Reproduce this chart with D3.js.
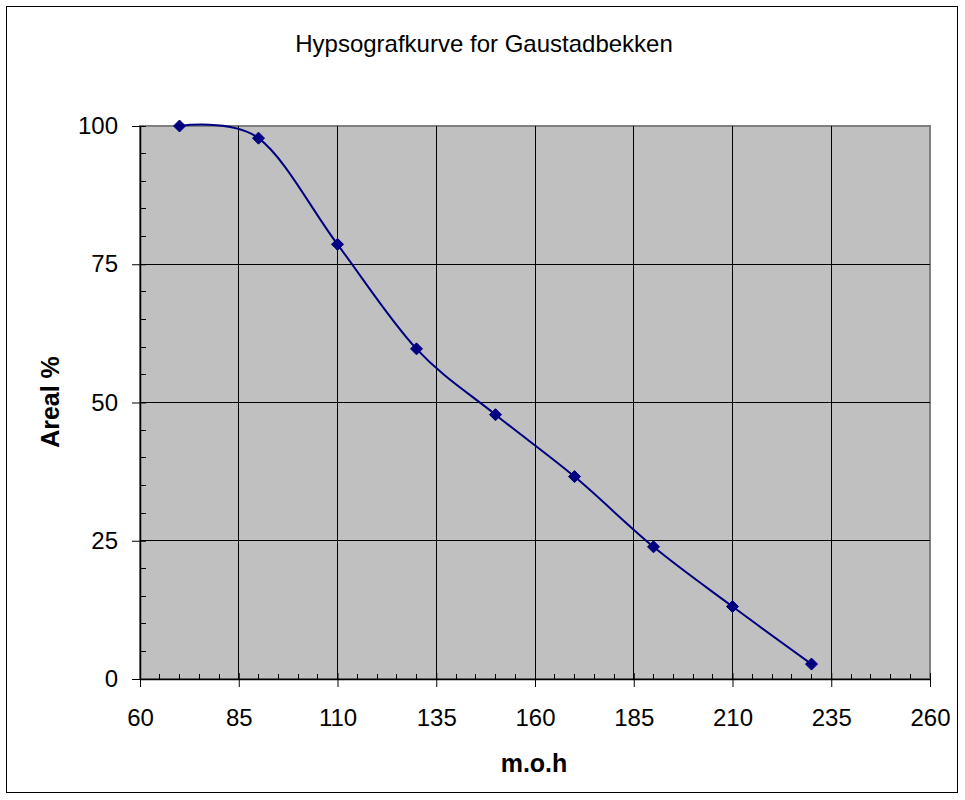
<!DOCTYPE html>
<html>
<head>
<meta charset="utf-8">
<script src="https://cdn.jsdelivr.net/npm/d3@7"></script>
<style>
  html, body { margin: 0; padding: 0; background: #fff; }
  svg { display: block; font-family: "Liberation Sans", Arial, sans-serif; }
</style>
</head>
<body>
<svg id="chart" width="965" height="800"></svg>
<script>
// Hypsographic curve: share of catchment area (%) above each elevation (m.o.h)
const elevation = [70, 90, 110, 130, 150, 170, 190, 210, 230];
const areaPct   = [100, 97.8, 78.6, 59.7, 47.8, 36.6, 23.9, 13.1, 2.7];
const xTicks = [60, 85, 110, 135, 160, 185, 210, 235, 260];
const yTicks = [0, 25, 50, 75, 100];
const titleText = "Hypsografkurve for Gaustadbekken";
const xLabel = "m.o.h";
const yLabel = "Areal %";

const svg = d3.select("#chart");
const plot = { left: 140, right: 930, top: 126, bottom: 679 };

const x = d3.scaleLinear().domain([60, 260]).range([plot.left, plot.right]);
const y = d3.scaleLinear().domain([0, 100]).range([plot.bottom, plot.top]);

// outer chart frame
svg.append("rect")
  .attr("x", 6.5).attr("y", 6.5)
  .attr("width", 951).attr("height", 786)
  .attr("fill", "#fff").attr("stroke", "#000").attr("stroke-width", 1);

// plot area background and border
svg.append("rect")
  .attr("x", plot.left).attr("y", plot.top)
  .attr("width", plot.right - plot.left).attr("height", plot.bottom - plot.top)
  .attr("fill", "#c0c0c0").attr("stroke", "#808080").attr("stroke-width", 2);

// gridlines
const grid = svg.append("g").attr("stroke", "#000").attr("stroke-width", 1).attr("shape-rendering", "crispEdges");
grid.selectAll("line.v").data(xTicks.slice(1, -1)).join("line")
  .attr("x1", d => x(d)).attr("x2", d => x(d))
  .attr("y1", plot.top).attr("y2", plot.bottom);
grid.selectAll("line.h").data(yTicks.slice(1, -1)).join("line")
  .attr("x1", plot.left).attr("x2", plot.right)
  .attr("y1", d => y(d)).attr("y2", d => y(d));

// minor ticks every 5 units, pointing into the plot
const xMinor = d3.range(60, 261, 5).filter(v => !xTicks.includes(v));
const yMinor = d3.range(0, 101, 5).filter(v => !yTicks.includes(v));
const minor = svg.append("g").attr("stroke", "#000").attr("stroke-width", 1).attr("shape-rendering", "crispEdges");
minor.selectAll("line.xm").data(xMinor).join("line")
  .attr("x1", d => x(d)).attr("x2", d => x(d))
  .attr("y1", plot.bottom - 5).attr("y2", plot.bottom);
minor.selectAll("line.ym").data(yMinor).join("line")
  .attr("x1", plot.left).attr("x2", plot.left + 6)
  .attr("y1", d => y(d)).attr("y2", d => y(d));

// x axis (major ticks cross the axis line)
const xAxis = svg.append("g")
  .attr("transform", `translate(0,${plot.bottom})`)
  .call(d3.axisBottom(x).tickValues(xTicks).tickSize(8).tickPadding(22).tickSizeOuter(0));
xAxis.select(".domain").attr("stroke", "#000").attr("stroke-width", 1.5);
xAxis.selectAll(".tick line").attr("y1", -6).attr("stroke", "#000");
xAxis.selectAll(".tick text")
  .attr("font-size", 24).attr("fill", "#000")
  .attr("font-family", "'Liberation Sans', Arial, sans-serif");

// y axis
const yAxis = svg.append("g")
  .attr("transform", `translate(${plot.left},0)`)
  .call(d3.axisLeft(y).tickValues(yTicks).tickSize(8).tickPadding(14).tickSizeOuter(0));
yAxis.select(".domain").attr("stroke", "#000").attr("stroke-width", 1.5);
yAxis.selectAll(".tick line").attr("x1", 6).attr("stroke", "#000");
yAxis.selectAll(".tick text")
  .attr("font-size", 24).attr("fill", "#000")
  .attr("font-family", "'Liberation Sans', Arial, sans-serif");

// smoothed series line
const pts = elevation.map((e, i) => [e, areaPct[i]]);
const line = d3.line()
  .x(d => x(d[0])).y(d => y(d[1]))
  .curve(d3.curveCatmullRom.alpha(0));
svg.append("path")
  .datum(pts)
  .attr("d", line)
  .attr("fill", "none")
  .attr("stroke", "#000080")
  .attr("stroke-width", 2);

// diamond markers
svg.append("g").selectAll("path").data(pts).join("path")
  .attr("transform", d => `translate(${x(d[0])},${y(d[1])})`)
  .attr("d", "M0,-6L6,0L0,6L-6,0Z")
  .attr("fill", "#000080")
  .attr("stroke", "#000080")
  .attr("stroke-width", 1);

// title and axis titles
svg.append("text")
  .attr("x", 484).attr("y", 52)
  .attr("text-anchor", "middle")
  .attr("font-size", 24)
  .text(titleText);

svg.append("text")
  .attr("x", 534).attr("y", 772)
  .attr("text-anchor", "middle")
  .attr("font-size", 25).attr("font-weight", "bold")
  .text(xLabel);

svg.append("text")
  .attr("transform", "translate(59,402) rotate(-90)")
  .attr("text-anchor", "middle")
  .attr("font-size", 25).attr("font-weight", "bold")
  .text(yLabel);
</script>
</body>
</html>
